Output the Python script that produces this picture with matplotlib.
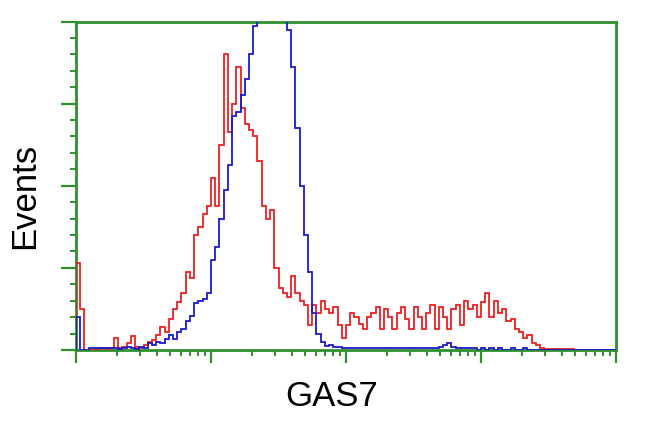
import numpy as np
import matplotlib
matplotlib.use("Agg")
import matplotlib.pyplot as plt
from matplotlib.ticker import LogLocator, MultipleLocator, NullFormatter

# Histogram: 128 log bins spanning 10^0 .. 10^4
n_bins = 128
bin_edges = np.logspace(0, 4, n_bins + 1)

red_counts = [
    106, 50, 0, 0, 1, 1, 2, 1, 3, 15,
    2, 4, 8, 17, 4, 3, 6, 10, 12, 18,
    28, 22, 38, 50, 58, 70, 95, 88, 140, 150,
    165, 175, 210, 175, 250, 360, 265, 300, 345, 295,
    275, 268, 260, 230, 175, 160, 170, 100, 75, 70,
    65, 90, 70, 60, 55, 30, 55, 45, 60, 50,
    45, 52, 30, 15, 30, 45, 40, 32, 25, 40,
    45, 52, 25, 50, 40, 25, 45, 52, 38, 25,
    52, 40, 25, 45, 55, 25, 52, 40, 25, 50,
    55, 30, 60, 50, 55, 40, 58, 70, 40, 60,
    45, 50, 35, 38, 25, 22, 15, 18, 8, 6,
    3, 1, 1, 1, 1, 1, 1, 1, 0, 0,
    0, 0, 0, 0, 0, 0, 0, 0,
]

blue_counts = [
    40, 0, 0, 2, 2, 2, 2, 2, 2, 2,
    1, 2, 4, 2, 1, 4, 3, 8, 6, 10,
    8, 14, 18, 14, 22, 25, 35, 42, 57, 60,
    62, 70, 110, 125, 160, 195, 225, 285, 290, 310,
    330, 360, 395, 420, 440, 455, 460, 450, 435, 415,
    390, 345, 270, 200, 140, 95, 45, 20, 10, 5,
    6, 4, 4, 2, 3, 2, 2, 3, 2, 2,
    3, 2, 2, 2, 3, 2, 2, 2, 3, 2,
    2, 2, 3, 2, 2, 3, 4, 6, 8, 4,
    3, 2, 3, 2, 2, 0, 2, 0, 2, 0,
    2, 0, 0, 2, 0, 0, 2, 0, 0, 0,
    0, 0, 0, 0, 0, 0, 0, 0, 0, 0,
    0, 0, 0, 0, 0, 0, 0, 0,
]

x_label = "GAS7"
y_label = "Events"

green = "#2e8f2e"
red = "#ee2020"
blue = "#1a1acc"

fig = plt.figure(figsize=(6.5, 4.32), dpi=100)
ax = fig.add_axes([76 / 650, 82 / 432, 540 / 650, 328.5 / 432])

ax.stairs(red_counts, bin_edges, color=red, linewidth=1.3, zorder=3)
ax.stairs(blue_counts, bin_edges, color=blue, linewidth=1.3, zorder=4)

ax.set_xscale("log")
ax.set_xlim(1, 1e4)
ax.set_ylim(0, 400)

ax.xaxis.set_major_locator(LogLocator(base=10, numticks=10))
ax.xaxis.set_minor_locator(LogLocator(base=10, subs=np.arange(2, 10), numticks=100))
ax.xaxis.set_major_formatter(NullFormatter())
ax.xaxis.set_minor_formatter(NullFormatter())
ax.yaxis.set_major_locator(MultipleLocator(100))
ax.yaxis.set_minor_locator(MultipleLocator(20))
ax.yaxis.set_major_formatter(NullFormatter())

for s in ax.spines.values():
    s.set_color(green)
    s.set_linewidth(2.0)
    s.set_zorder(2)

ax.tick_params(axis="both", which="major", direction="out", color=green,
               width=1.6, length=11)
ax.tick_params(axis="both", which="minor", direction="out", color=green,
               width=1.4, length=4.5)
ax.tick_params(axis="x", which="major", length=9)

fig.text(332 / 650, 35 / 432, x_label, ha="center", va="center",
         fontsize=25, family=["Liberation Sans", "DejaVu Sans"])
fig.text(25 / 650, (432 - 196) / 432, y_label, ha="center", va="center",
         rotation=90, fontsize=25, family=["Liberation Sans", "DejaVu Sans"])

fig.savefig("out.png", dpi=100)
